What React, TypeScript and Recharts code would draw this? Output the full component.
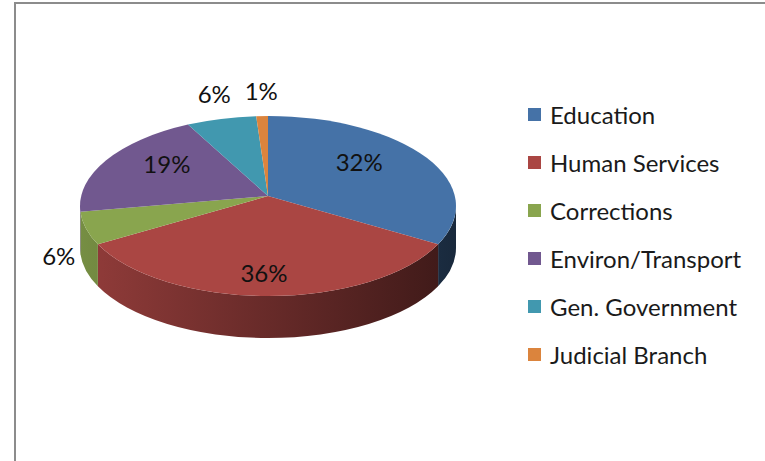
import React from 'react';
import { PieChart, Pie, Cell, Legend } from 'recharts';

const CATEGORIES = [
  'Education',
  'Human Services',
  'Corrections',
  'Environ/Transport',
  'Gen. Government',
  'Judicial Branch',
];
const SHARES = [32, 36, 6, 19, 6, 1];
const COLORS = ['#4572A7', '#AA4643', '#89A54E', '#71588F', '#4198AF', '#DB843D'];

const data = CATEGORIES.map((name, i) => ({ name, value: SHARES[i] }));

// tilted pie geometry
const TILT = 90 / 188;
const DEPTH = 42;
const LIFT = 10; // apex sits a bit above the ellipse centre (perspective)
const RAD = Math.PI / 180;
const FONT = 'Lato, "Open Sans", sans-serif';

const shade = (hex: string, k: number) => {
  const n = parseInt(hex.slice(1), 16);
  const c = [(n >> 16) & 255, (n >> 8) & 255, n & 255].map((v) => Math.round(v * k));
  return `rgb(${c[0]},${c[1]},${c[2]})`;
};

const FRONT = [
  [-540, -360],
  [-180, 0],
  [180, 360],
];

const Slice3D = (props: any) => {
  const { cx, cy, outerRadius, startAngle, endAngle, fill } = props;
  const rx = outerRadius;
  const ry = outerRadius * TILT;
  const pt = (a: number, dy = 0) =>
    `${cx + rx * Math.cos(a * RAD)},${cy - ry * Math.sin(a * RAD) + dy}`;

  const delta = endAngle - startAngle;
  const sweep = delta < 0 ? 1 : 0;
  const large = Math.abs(delta) > 180 ? 1 : 0;
  const top = `M${cx},${cy - LIFT} L${pt(startAngle)} A${rx},${ry} 0 ${large} ${sweep} ${pt(endAngle)} Z`;

  const lo = Math.min(startAngle, endAngle);
  const hi = Math.max(startAngle, endAngle);
  const gid = `wall-${fill.replace('#', '')}`;
  const walls: string[] = [];
  FRONT.forEach(([a, b]) => {
    const s = Math.max(a, lo);
    const e = Math.min(b, hi);
    if (e - s > 0.01) {
      walls.push(
        `M${pt(s)} A${rx},${ry} 0 0 0 ${pt(e)} L${pt(e, DEPTH)} A${rx},${ry} 0 0 1 ${pt(s, DEPTH)} Z`
      );
    }
  });

  return (
    <g>
      <defs>
        <linearGradient id={gid} gradientUnits="userSpaceOnUse" x1={cx - rx} x2={cx + rx} y1={0} y2={0}>
          <stop offset="0" stopColor={shade(fill, 0.86)} />
          <stop offset="1" stopColor={shade(fill, 0.36)} />
        </linearGradient>
      </defs>
      {walls.map((d, i) => (
        <path key={i} d={d} fill={`url(#${gid})`} />
      ))}
      <path d={top} fill={fill} />
    </g>
  );
};

const renderLabel = (props: any) => {
  const { cx, cy, midAngle, outerRadius, percent } = props;
  const rx = outerRadius;
  const ry = outerRadius * TILT;
  const c = Math.cos(midAngle * RAD);
  const s = Math.sin(midAngle * RAD);
  let x: number;
  let y: number;
  if (percent >= 0.1) {
    x = cx + rx * 0.6 * c - 4;
    y = cy - LIFT - ry * 0.8 * s + 4;
  } else {
    x = cx + rx * c + 28 * c;
    y = cy - ry * s - 26 * s + (s < 0 ? DEPTH * 0.5 : 0);
  }
  return (
    <text
      x={x}
      y={y}
      textAnchor="middle"
      dominantBaseline="central"
      fill="#111"
      fontFamily={FONT}
      fontSize={24}
    >
      {`${Math.round(percent * 100)}%`}
    </text>
  );
};

const renderLegend = (props: any) => {
  const items = [...(props.payload || [])].sort(
    (a: any, b: any) => CATEGORIES.indexOf(a.value) - CATEGORIES.indexOf(b.value)
  );
  return (
    <div style={{ fontFamily: FONT, fontSize: 24, color: '#1a1a1a' }}>
      {items.map((entry: any) => (
        <div key={entry.value} style={{ display: 'flex', alignItems: 'center', height: 48 }}>
          <span
            style={{ display: 'inline-block', width: 13, height: 13, background: entry.color, marginRight: 9 }}
          />
          <span>{entry.value}</span>
        </div>
      ))}
    </div>
  );
};

export default function App() {
  return (
    <div style={{ position: 'absolute', left: 0, top: 0, width: 765, height: 461, background: '#fff' }}>
      <div
        style={{
          position: 'absolute',
          left: 14,
          top: 2,
          right: 0,
          bottom: 0,
          borderTop: '2px solid #8c8c8c',
          borderLeft: '2px solid #8c8c8c',
        }}
      />
      <div style={{ position: 'absolute', left: 0, top: 0 }}>
        <PieChart width={765} height={461} margin={{ top: 0, right: 0, bottom: 0, left: 0 }}>
          <Pie
            data={data}
            dataKey="value"
            nameKey="name"
            cx={268}
            cy={206}
            outerRadius={188}
            startAngle={90}
            endAngle={-270}
            stroke="none"
            shape={Slice3D}
            label={renderLabel}
            labelLine={false}
            isAnimationActive={false}
          >
            {data.map((_, index) => (
              <Cell key={`cell-${index}`} fill={COLORS[index % COLORS.length]} />
            ))}
          </Pie>
          <Legend
            layout="vertical"
            align="center"
            verticalAlign="middle"
            itemSorter={null}
            content={renderLegend}
            wrapperStyle={{ left: 528, top: 90, width: 235 }}
          />
        </PieChart>
      </div>
    </div>
  );
}
